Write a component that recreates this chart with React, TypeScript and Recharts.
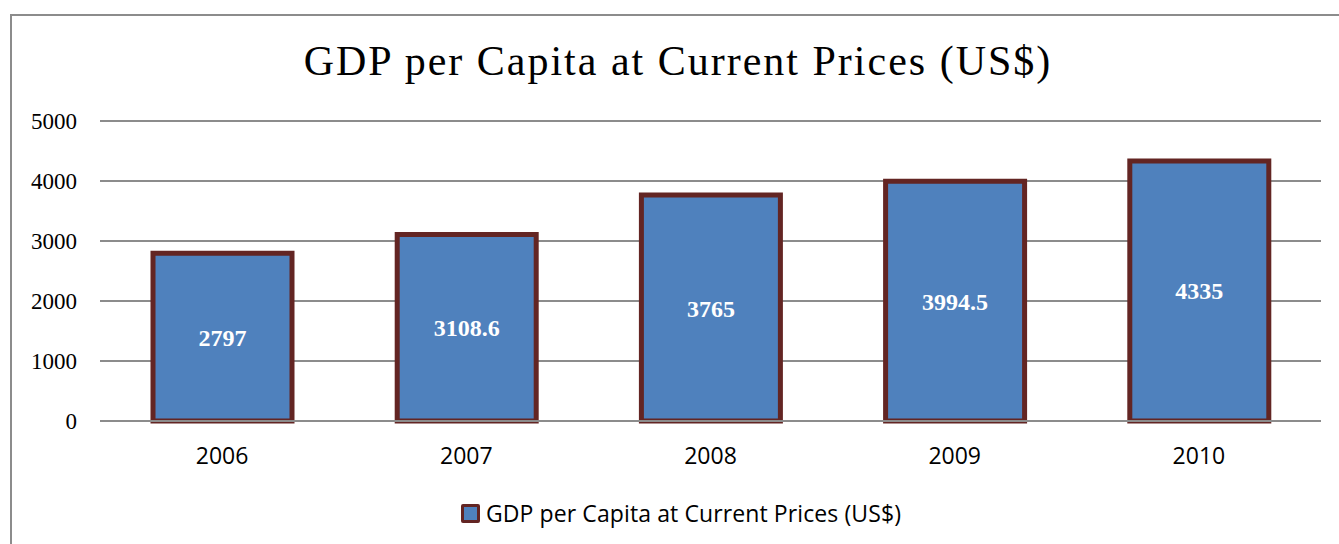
import React from 'react';
import { BarChart, Bar, XAxis, YAxis, CartesianGrid, Legend, LabelList } from 'recharts';

const years = ['2006', '2007', '2008', '2009', '2010'];
const gdpPerCapita = [2797, 3108.6, 3765, 3994.5, 4335];
const yTicks = [0, 1000, 2000, 3000, 4000, 5000];
const seriesName = 'GDP per Capita at Current Prices (US$)';
const chartTitle = 'GDP per Capita at Current Prices (US$)';

const data = years.map((year, i) => ({ year, value: gdpPerCapita[i] }));

const BLUE = '#4f81bd';
const MAROON = '#632523';
const GRID = '#8c8c8c';

function LegendBox() {
  return (
    <div style={{ display: 'flex', justifyContent: 'center', alignItems: 'center', height: 30, paddingLeft: 41 }}>
      <span
        style={{
          display: 'inline-block',
          width: 13,
          height: 13,
          background: BLUE,
          border: `3px solid ${MAROON}`,
          borderRadius: 2,
          marginRight: 6,
        }}
      />
      <span style={{ fontFamily: '"Open Sans", sans-serif', fontSize: 23, letterSpacing: 0.1, color: '#000' }}>
        {seriesName}
      </span>
    </div>
  );
}

export default function App() {
  return (
    <div style={{ position: 'absolute', left: 0, top: 0, width: 1339, height: 544, background: '#fff', overflow: 'hidden' }}>
      <div
        style={{
          position: 'absolute',
          left: 10,
          top: 14,
          width: 1400,
          height: 600,
          borderLeft: `2px solid ${GRID}`,
          borderTop: `2px solid ${GRID}`,
        }}
      />
      <div
        style={{
          position: 'absolute',
          left: 0,
          top: 36,
          width: 1356,
          textAlign: 'center',
          fontFamily: '"Liberation Serif", serif',
          fontSize: 42,
          letterSpacing: 2,
          lineHeight: '50px',
          color: '#000',
        }}
      >
        {chartTitle}
      </div>
      <div style={{ position: 'absolute', left: 0, top: 0 }}>
        <BarChart width={1339} height={544} data={data} margin={{ top: 121, right: 18, bottom: 16, left: 0 }}>
          <CartesianGrid vertical={false} stroke={GRID} strokeWidth={2} />
          <XAxis
            dataKey="year"
            height={77}
            tickSize={0}
            tickMargin={27}
            axisLine={{ stroke: GRID, strokeWidth: 2 }}
            tickLine={false}
            tick={{ fill: '#000', fontFamily: '"Open Sans", sans-serif', fontSize: 23 }}
          />
          <YAxis
            width={100}
            domain={[0, 5000]}
            ticks={yTicks}
            interval={0}
            tickSize={0}
            tickMargin={23}
            axisLine={false}
            tickLine={false}
            tick={{ fill: '#000', fontFamily: '"Liberation Serif", serif', fontSize: 23 }}
          />
          <Legend verticalAlign="bottom" height={30} content={() => <LegendBox />} />
          <Bar
            dataKey="value"
            name={seriesName}
            fill={BLUE}
            stroke={MAROON}
            strokeWidth={5}
            barSize={139}
            isAnimationActive={false}
          >
            <LabelList
              dataKey="value"
              position="center"
              fill="#fff"
              style={{ fontFamily: '"Liberation Serif", serif', fontSize: 24, fontWeight: 'bold' }}
            />
          </Bar>
        </BarChart>
      </div>
    </div>
  );
}
